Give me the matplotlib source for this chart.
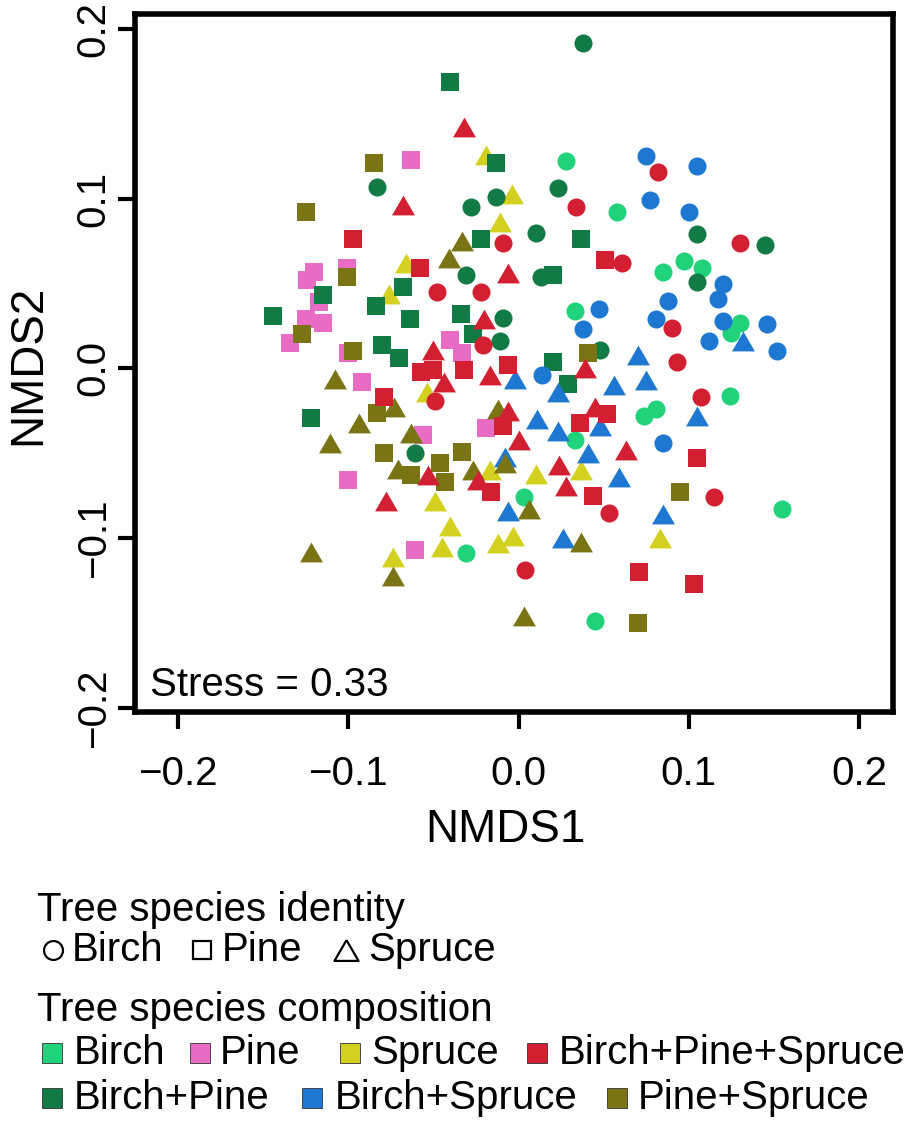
import matplotlib
matplotlib.use("Agg")
import matplotlib.pyplot as plt
from matplotlib.ticker import FixedLocator, FuncFormatter
import numpy as np

plt.rcParams['font.family'] = ['Liberation Sans', 'DejaVu Sans']

# ---------------- data (NMDS1, NMDS2) ----------------
birch_circle_x = [0.028, 0.058, 0.033, 0.085, 0.097, 0.108, 0.130, 0.125, 0.124, 0.074, 0.081, 0.033, 0.003, -0.031, 0.045, 0.155]
birch_circle_y = [0.122, 0.092, 0.034, 0.057, 0.063, 0.059, 0.027, 0.021, -0.016, -0.028, -0.024, -0.042, -0.076, -0.109, -0.149, -0.083]

pine_square_x = [-0.063, -0.120, -0.124, -0.101, -0.117, -0.125, -0.115, -0.134, -0.100, -0.092, -0.040, -0.033, -0.056, -0.019, -0.100, -0.061]
pine_square_y = [0.123, 0.057, 0.052, 0.059, 0.039, 0.029, 0.027, 0.015, 0.009, -0.008, 0.017, 0.009, -0.039, -0.035, -0.066, -0.107]

spruce_tri_x = [-0.019, -0.004, -0.011, -0.066, -0.076, -0.054, -0.049, -0.017, 0.010, 0.037, -0.040, -0.003, -0.012, -0.045, -0.074, 0.083]
spruce_tri_y = [0.126, 0.103, 0.086, 0.062, 0.044, -0.014, -0.078, -0.060, -0.062, -0.060, -0.093, -0.099, -0.103, -0.105, -0.111, -0.100]

bps_circle_x = [0.082, 0.034, 0.130, -0.009, -0.048, -0.022, 0.061, -0.021, -0.049, 0.090, 0.093, 0.107, 0.053, 0.004, 0.115]
bps_circle_y = [0.116, 0.095, 0.074, 0.074, 0.045, 0.045, 0.062, 0.014, -0.019, 0.024, 0.004, -0.017, -0.085, -0.119, -0.076]
bps_square_x = [-0.097, -0.058, 0.051, -0.057, -0.050, -0.032, -0.006, -0.079, -0.009, 0.036, 0.052, -0.016, 0.044, 0.071, 0.103, 0.105]
bps_square_y = [0.076, 0.059, 0.064, -0.002, -0.001, -0.001, 0.002, -0.017, -0.034, -0.032, -0.027, -0.073, -0.075, -0.120, -0.127, -0.053]
bps_tri_x = [-0.032, -0.068, -0.006, -0.020, -0.050, -0.044, -0.017, 0.039, -0.006, 0.045, 0.000, 0.063, 0.024, -0.053, -0.024, 0.028, -0.078]
bps_tri_y = [0.142, 0.096, 0.056, 0.029, 0.011, -0.008, -0.004, 0.000, -0.025, -0.023, -0.042, -0.048, -0.057, -0.063, -0.066, -0.069, -0.078]

bp_circle_x = [0.038, -0.083, -0.028, -0.013, 0.023, 0.010, 0.105, 0.145, -0.031, 0.013, -0.009, -0.011, 0.048, 0.105, -0.061]
bp_circle_y = [0.192, 0.107, 0.095, 0.101, 0.106, 0.080, 0.079, 0.073, 0.055, 0.054, 0.030, 0.016, 0.011, 0.051, -0.050]
bp_square_x = [-0.040, -0.013, -0.022, 0.037, 0.020, -0.068, -0.084, -0.115, -0.144, -0.064, -0.034, -0.027, -0.080, -0.070, -0.122, 0.020, 0.029]
bp_square_y = [0.169, 0.121, 0.076, 0.076, 0.055, 0.048, 0.037, 0.043, 0.031, 0.029, 0.032, 0.020, 0.014, 0.006, -0.029, 0.004, -0.009]

bs_circle_x = [0.075, 0.105, 0.077, 0.100, 0.120, 0.088, 0.117, 0.081, 0.120, 0.146, 0.112, 0.152, 0.047, 0.038, 0.014, 0.085]
bs_circle_y = [0.125, 0.119, 0.099, 0.092, 0.050, 0.040, 0.041, 0.029, 0.028, 0.026, 0.016, 0.010, 0.035, 0.023, -0.004, -0.044]
bs_tri_x = [0.132, 0.070, 0.075, 0.105, 0.056, 0.023, -0.002, 0.011, 0.023, 0.048, 0.041, -0.008, 0.059, -0.006, 0.026, 0.085]
bs_tri_y = [0.016, 0.008, -0.007, -0.028, -0.010, -0.014, -0.006, -0.030, -0.037, -0.034, -0.050, -0.052, -0.064, -0.084, -0.100, -0.086]

ps_square_x = [-0.085, -0.125, -0.101, -0.127, -0.097, -0.083, -0.079, -0.033, -0.046, -0.063, -0.043, 0.041, 0.095, 0.070]
ps_square_y = [0.121, 0.092, 0.054, 0.020, 0.010, -0.026, -0.050, -0.049, -0.056, -0.063, -0.067, 0.009, -0.073, -0.150]
ps_tri_x = [-0.033, -0.041, -0.108, -0.073, -0.094, -0.111, -0.063, -0.071, -0.027, -0.012, -0.008, 0.006, 0.037, 0.003, -0.122, -0.074]
ps_tri_y = [0.075, 0.065, -0.006, -0.023, -0.032, -0.044, -0.038, -0.059, -0.060, -0.024, -0.056, -0.083, -0.102, -0.146, -0.108, -0.122]

compositions = ["Birch", "Pine", "Spruce", "Birch+Pine+Spruce", "Birch+Pine", "Birch+Spruce", "Pine+Spruce"]
comp_colors = {"Birch": "#20D27A", "Pine": "#E86CC3", "Spruce": "#D4D020",
               "Birch+Pine+Spruce": "#D31F32", "Birch+Pine": "#127A45",
               "Birch+Spruce": "#1E78D2", "Pine+Spruce": "#7A7414"}
identities = ["Birch", "Pine", "Spruce"]
stress_value = 0.33
xticks = [-0.2, -0.1, 0.0, 0.1, 0.2]
yticks = [-0.2, -0.1, 0.0, 0.1, 0.2]

# R-like triangle (pch 17) centred on its bounding box
tri = [(0, 1.1665), (-1.347, -1.1665), (1.347, -1.1665), (0, 1.1665)]
markers = {"Birch": ("o", 13), "Pine": ("s", 13), "Spruce": (tri, 16.5)}

series = [
    ("Birch", "Birch", birch_circle_x, birch_circle_y),
    ("Pine", "Pine", pine_square_x, pine_square_y),
    ("Spruce", "Spruce", spruce_tri_x, spruce_tri_y),
    ("Birch+Pine", "Birch", bp_circle_x, bp_circle_y),
    ("Birch+Pine", "Pine", bp_square_x, bp_square_y),
    ("Birch+Spruce", "Birch", bs_circle_x, bs_circle_y),
    ("Birch+Spruce", "Spruce", bs_tri_x, bs_tri_y),
    ("Pine+Spruce", "Pine", ps_square_x, ps_square_y),
    ("Pine+Spruce", "Spruce", ps_tri_x, ps_tri_y),
    ("Birch+Pine+Spruce", "Birch", bps_circle_x, bps_circle_y),
    ("Birch+Pine+Spruce", "Pine", bps_square_x, bps_square_y),
    ("Birch+Pine+Spruce", "Spruce", bps_tri_x, bps_tri_y),
]

W, H = 912, 1125
fig = plt.figure(figsize=(W / 100, H / 100), dpi=100)
ax = fig.add_axes([135 / W, 1 - 712 / H, (893 - 135) / W, (712 - 14) / H])

for comp, ident, xs, ys in series:
    m, ms = markers[ident]
    ax.plot(xs, ys, linestyle="none", marker=m, markersize=ms,
            color=comp_colors[comp], markeredgewidth=0)

ax.set_xlim(-0.2253, 0.2200)
ax.set_ylim(-0.2024, 0.2088)
fmt = FuncFormatter(lambda v, p: f"{v:.1f}".replace("-", "\u2212"))
ax.xaxis.set_major_locator(FixedLocator(xticks))
ax.yaxis.set_major_locator(FixedLocator(yticks))
ax.xaxis.set_major_formatter(fmt)
ax.yaxis.set_major_formatter(fmt)
ax.tick_params(axis="x", length=12, width=3, pad=19, labelsize=29)
ax.tick_params(axis="y", length=12, width=3, pad=4, labelsize=29, labelrotation=90)
for lab in ax.get_yticklabels():
    lab.set_va("center")
for s in ax.spines.values():
    s.set_linewidth(4)

fig.text(505 / W, 1 - 830 / H, "NMDS1", fontsize=33, ha="center", va="center")
fig.text(28 / W, 1 - 365 / H, "NMDS2", fontsize=33, ha="center", va="center", rotation=90)
fig.text(150 / W, 1 - 685 / H, f"Stress = {stress_value:.2f}", fontsize=29, ha="left", va="center")

# ---------------- legend area ----------------
lg = fig.add_axes([0, 0, 1, 1], zorder=-1)
lg.set_xlim(0, W)
lg.set_ylim(H, 0)
lg.axis("off")
fs = 29
lg.text(37, 910, "Tree species identity", fontsize=fs, ha="left", va="center")
id_pos = [(53, 72), (202, 222), (346, 368)]
for name, (mx, tx) in zip(identities, id_pos):
    m, ms = markers[name]
    lg.plot([mx], [950], linestyle="none", marker=m, markersize=ms * 1.05,
            markerfacecolor="none", markeredgecolor="black", markeredgewidth=1.6)
    lg.text(tx, 950, name, fontsize=fs, ha="left", va="center")

lg.text(37, 1010, "Tree species composition", fontsize=fs, ha="left", va="center")
comp_pos = [(52, 74, 1053), (200, 220, 1053), (350, 371, 1053), (537, 559, 1053),
            (52, 74, 1098), (312, 335, 1098), (617, 638, 1098)]
for name, (mx, tx, yy) in zip(compositions, comp_pos):
    lg.plot([mx], [yy], linestyle="none", marker="s", markersize=14,
            color=comp_colors[name], markeredgecolor="#333333", markeredgewidth=0.6)
    lg.text(tx, yy, name, fontsize=fs, ha="left", va="center")

fig.savefig("out.png", dpi=100)
